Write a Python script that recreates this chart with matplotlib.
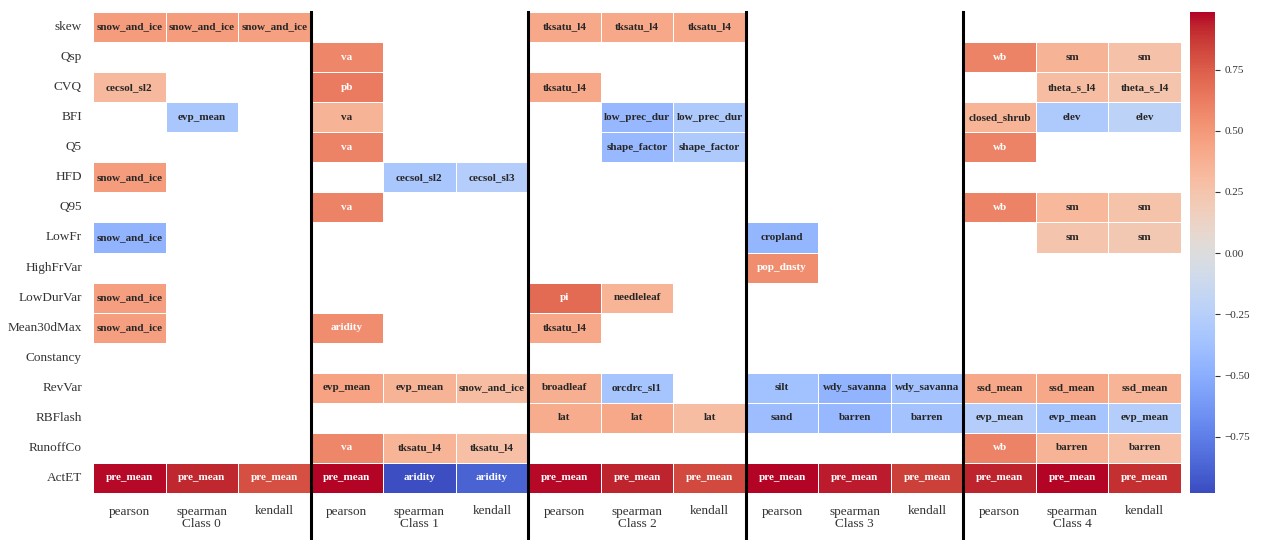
import numpy as np
import pandas as pd
import matplotlib
matplotlib.use('Agg')
import matplotlib.pyplot as plt
import seaborn as sns

plt.rcParams['font.family'] = ['Liberation Serif', 'DejaVu Serif']

rows = ['skew', 'Qsp', 'CVQ', 'BFI', 'Q5', 'HFD', 'Q95', 'LowFr', 'HighFrVar',
        'LowDurVar', 'Mean30dMax', 'Constancy', 'RevVar', 'RBFlash', 'RunoffCo', 'ActET']
methods = ['pearson', 'spearman', 'kendall']
classes = ['Class 0', 'Class 1', 'Class 2', 'Class 3', 'Class 4']

# (row, method, correlation, strongest attribute)
class0 = [
    ('skew', 'pearson', 0.48, 'snow_and_ice'), ('skew', 'spearman', 0.48, 'snow_and_ice'),
    ('skew', 'kendall', 0.46, 'snow_and_ice'),
    ('CVQ', 'pearson', 0.32, 'cecsol_sl2'),
    ('BFI', 'spearman', -0.33, 'evp_mean'),
    ('HFD', 'pearson', 0.48, 'snow_and_ice'),
    ('LowFr', 'pearson', -0.46, 'snow_and_ice'),
    ('LowDurVar', 'pearson', 0.47, 'snow_and_ice'),
    ('Mean30dMax', 'pearson', 0.47, 'snow_and_ice'),
    ('ActET', 'pearson', 0.97, 'pre_mean'), ('ActET', 'spearman', 0.92, 'pre_mean'),
    ('ActET', 'kendall', 0.80, 'pre_mean'),
]
class1 = [
    ('Qsp', 'pearson', 0.58, 'va'),
    ('CVQ', 'pearson', 0.63, 'pb'),
    ('BFI', 'pearson', 0.36, 'va'),
    ('Q5', 'pearson', 0.60, 'va'),
    ('HFD', 'spearman', -0.33, 'cecsol_sl2'), ('HFD', 'kendall', -0.26, 'cecsol_sl3'),
    ('Q95', 'pearson', 0.60, 'va'),
    ('Mean30dMax', 'pearson', 0.55, 'aridity'),
    ('RevVar', 'pearson', 0.45, 'evp_mean'), ('RevVar', 'spearman', 0.36, 'evp_mean'),
    ('RevVar', 'kendall', 0.30, 'snow_and_ice'),
    ('RunoffCo', 'pearson', 0.58, 'va'), ('RunoffCo', 'spearman', 0.35, 'tksatu_l4'),
    ('RunoffCo', 'kendall', 0.28, 'tksatu_l4'),
    ('ActET', 'pearson', 0.98, 'pre_mean'), ('ActET', 'spearman', -0.97, 'aridity'),
    ('ActET', 'kendall', -0.88, 'aridity'),
]
class2 = [
    ('skew', 'pearson', 0.42, 'tksatu_l4'), ('skew', 'spearman', 0.42, 'tksatu_l4'),
    ('skew', 'kendall', 0.42, 'tksatu_l4'),
    ('CVQ', 'pearson', 0.42, 'tksatu_l4'),
    ('BFI', 'spearman', -0.43, 'low_prec_dur'), ('BFI', 'kendall', -0.30, 'low_prec_dur'),
    ('Q5', 'spearman', -0.42, 'shape_factor'), ('Q5', 'kendall', -0.30, 'shape_factor'),
    ('LowDurVar', 'pearson', 0.70, 'pi'), ('LowDurVar', 'spearman', 0.35, 'needleleaf'),
    ('Mean30dMax', 'pearson', 0.42, 'tksatu_l4'),
    ('RevVar', 'pearson', 0.38, 'broadleaf'), ('RevVar', 'spearman', -0.35, 'orcdrc_sl1'),
    ('RBFlash', 'pearson', 0.40, 'lat'), ('RBFlash', 'spearman', 0.42, 'lat'),
    ('RBFlash', 'kendall', 0.30, 'lat'),
    ('ActET', 'pearson', 0.97, 'pre_mean'), ('ActET', 'spearman', 0.93, 'pre_mean'),
    ('ActET', 'kendall', 0.82, 'pre_mean'),
]
class3 = [
    ('LowFr', 'pearson', -0.45, 'cropland'),
    ('HighFrVar', 'pearson', 0.55, 'pop_dnsty'),
    ('RevVar', 'pearson', -0.37, 'silt'), ('RevVar', 'spearman', -0.46, 'wdy_savanna'),
    ('RevVar', 'kendall', -0.36, 'wdy_savanna'),
    ('RBFlash', 'pearson', -0.40, 'sand'), ('RBFlash', 'spearman', -0.43, 'barren'),
    ('RBFlash', 'kendall', -0.36, 'barren'),
    ('ActET', 'pearson', 0.98, 'pre_mean'), ('ActET', 'spearman', 0.94, 'pre_mean'),
    ('ActET', 'kendall', 0.85, 'pre_mean'),
]
class4 = [
    ('Qsp', 'pearson', 0.60, 'wb'), ('Qsp', 'spearman', 0.36, 'sm'), ('Qsp', 'kendall', 0.27, 'sm'),
    ('CVQ', 'spearman', 0.30, 'theta_s_l4'), ('CVQ', 'kendall', 0.25, 'theta_s_l4'),
    ('BFI', 'pearson', 0.35, 'closed_shrub'), ('BFI', 'spearman', -0.30, 'elev'),
    ('BFI', 'kendall', -0.22, 'elev'),
    ('Q5', 'pearson', 0.60, 'wb'),
    ('Q95', 'pearson', 0.60, 'wb'), ('Q95', 'spearman', 0.33, 'sm'), ('Q95', 'kendall', 0.26, 'sm'),
    ('LowFr', 'spearman', 0.25, 'sm'), ('LowFr', 'kendall', 0.22, 'sm'),
    ('RevVar', 'pearson', 0.42, 'ssd_mean'), ('RevVar', 'spearman', 0.42, 'ssd_mean'),
    ('RevVar', 'kendall', 0.35, 'ssd_mean'),
    ('RBFlash', 'pearson', -0.26, 'evp_mean'), ('RBFlash', 'spearman', -0.35, 'evp_mean'),
    ('RBFlash', 'kendall', -0.26, 'evp_mean'),
    ('RunoffCo', 'pearson', 0.60, 'wb'), ('RunoffCo', 'spearman', 0.36, 'barren'),
    ('RunoffCo', 'kendall', 0.28, 'barren'),
    ('ActET', 'pearson', 0.93, 'pre_mean'), ('ActET', 'spearman', 0.98, 'pre_mean'),
    ('ActET', 'kendall', 0.90, 'pre_mean'),
]

cols = [(c, m) for c in classes for m in methods]
val = pd.DataFrame(np.nan, index=rows, columns=pd.MultiIndex.from_tuples(cols))
txt = pd.DataFrame('', index=rows, columns=val.columns)
for cname, entries in zip(classes, [class0, class1, class2, class3, class4]):
    for r, m, v, name in entries:
        val.loc[r, (cname, m)] = v
        txt.loc[r, (cname, m)] = name

fig = plt.figure(figsize=(12.64, 5.4), dpi=100)
ax = fig.add_axes([93 / 1264, 47 / 540, 1088 / 1264, 481 / 540])
cax = fig.add_axes([1190 / 1264, 47 / 540, 25 / 1264, 481 / 540])

sns.heatmap(val.values, annot=txt.values, fmt='', cmap='coolwarm', vmin=-0.98, vmax=0.985,
            linewidths=0.5, linecolor='white', ax=ax, cbar_ax=cax,
            annot_kws={'fontsize': 8, 'fontweight': 'bold'})

xlabels = []
for c in classes:
    xlabels += ['pearson', 'spearman\n' + c, 'kendall']
ax.set_xticks(np.arange(len(cols)) + 0.5)
ax.set_xticklabels(xlabels, rotation=0, fontsize=9.5, linespacing=1.05, color='#333333')
ax.set_yticks(np.arange(len(rows)) + 0.5)
ax.set_yticklabels(rows, rotation=0, fontsize=9.5, color='#333333')
ax.tick_params(axis='x', length=0, pad=9)
ax.tick_params(axis='y', length=0, pad=8)

for i in range(1, len(classes)):
    ax.axvline(3 * i, ymin=-0.1, ymax=1, color='black', lw=2.2, clip_on=False)

cax.set_yticks([-0.75, -0.5, -0.25, 0, 0.25, 0.5, 0.75])
cax.set_yticklabels(['\u22120.75', '\u22120.50', '\u22120.25', '0.00', '0.25', '0.50', '0.75'])
cax.tick_params(labelsize=8, length=3.5, width=0.8, colors='#333333')

fig.savefig('out.png', dpi=100)
